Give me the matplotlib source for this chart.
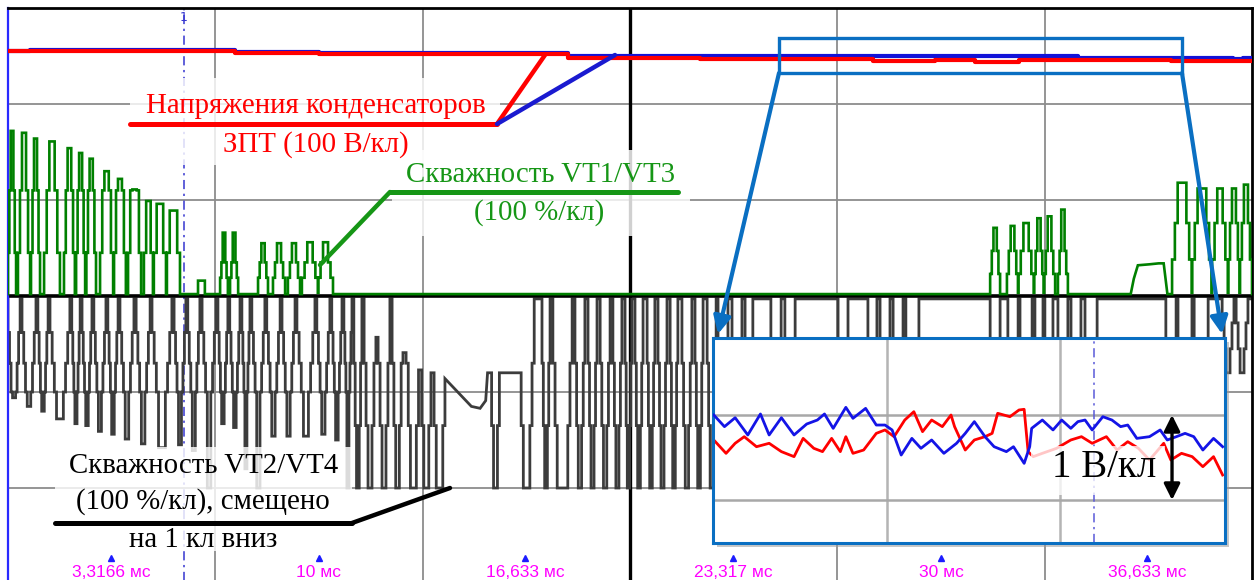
import matplotlib
matplotlib.use("Agg")
import matplotlib.pyplot as plt
from matplotlib.patches import Rectangle, FancyArrowPatch
from matplotlib.lines import Line2D

W, H = 1259, 580

# ---------------- main screen: time in ms, amplitude in divisions ----------------
t_lim = (0.0, 40.0)
div_lim = (-3.0, 3.0)
grid_t = [6.667, 13.333, 26.667, 33.333]
center_t = 20.0
grid_div = [-2.0, -1.0, 1.0, 2.0]
cursor_t = 5.66
tick_pos = [3.3166, 10.0, 16.633, 23.317, 30.0, 36.633]
tick_lbl = ["3,3166 мс", "10 мс", "16,633 мс", "23,317 мс", "30 мс", "36,633 мс"]

# capacitor voltages of the DC link, V (100 V/div)
cap_red_t = [0.0, 7.3, 10.0, 18.0, 22.25, 27.8, 29.8, 31.1, 32.5, 37.4, 40.0]
cap_red_v = [255.2, 253.4, 251.8, 248.2, 246.8, 244.8, 245.8, 243.6, 245.8, 244.8, 244.8]
cap_blue_t = [0.0, 0.7, 7.3, 10.0, 18.0, 20.0, 34.4, 39.4, 39.7, 40.0]
cap_blue_v = [255.4, 256.2, 254.4, 252.9, 250.0, 249.7, 247.6, 247.0, 247.6, 247.6]
volts_per_div = 100.0

# duty cycle VT1/VT3 (div): pulses (t_on, t_off, peak)
vt13_base = 0.02
vt13_a = [(0.00, 0.26, 1.72), (0.32, 0.71, 1.70), (0.74, 1.03, 1.64), (1.16, 1.67, 1.61),
          (1.80, 2.15, 1.54), (2.19, 2.48, 1.49), (2.52, 2.83, 1.43), (2.96, 3.38, 1.30),
          (3.41, 3.79, 1.22), (3.86, 4.28, 1.11), (4.37, 4.66, 0.99), (4.69, 5.08, 0.96),
          (5.11, 5.53, 0.89)]
vt13_a_steps = [0.45, 1.10]
vt13_b = [(6.11, 6.33, 0.16), (6.82, 7.07, 0.66), (7.14, 7.40, 0.66), (8.04, 8.36, 0.55),
          (8.52, 8.91, 0.55), (9.00, 9.39, 0.55), (9.45, 9.97, 0.56), (9.97, 10.45, 0.56)]
vt13_b_steps = [0.19, 0.35]
vt13_c = [(31.58, 31.90, 0.71), (32.12, 32.48, 0.73), (32.48, 32.99, 0.76),
          (32.99, 33.31, 0.81), (33.31, 33.67, 0.83), (33.76, 34.08, 0.90)]
vt13_c_steps = [0.23, 0.47]
vt13_plateau_t = [36.10, 36.20, 36.33, 36.70, 37.00, 37.16, 37.22, 37.28]
vt13_plateau_v = [0.02, 0.18, 0.32, 0.33, 0.34, 0.34, 0.18, 0.02]
vt13_d = [(37.43, 38.07, 1.18), (38.07, 38.71, 1.12), (38.71, 39.23, 1.12),
          (39.23, 39.61, 1.12), (39.61, 40.0, 1.16)]
vt13_d_steps = [0.38, 0.76]

# duty cycle VT2/VT4 (div, shifted one division down): pulses (t_on, t_off, depth[, level after])
vt24_base = -0.03
vt24_left = [(0.0, 0.39, -1.06), (0.45, 0.90, -1.15), (0.96, 1.29, -1.20), (1.35, 1.99, -1.28),
             (2.05, 2.32, -1.33), (2.38, 2.70, -1.35), (2.76, 3.15, -1.41), (3.21, 3.54, -1.44),
             (3.60, 4.05, -1.49), (4.12, 4.57, -1.54), (4.63, 5.27, -1.58), (5.34, 5.72, -1.55),
             (5.78, 6.17, -1.61), (6.24, 6.69, -2.0), (6.75, 7.07, -1.33), (7.13, 7.46, -1.37),
             (7.52, 7.78, -1.80), (7.84, 8.26, -2.0), (8.32, 8.75, -1.46), (8.81, 9.23, -1.46),
             (9.29, 9.87, -1.46), (9.93, 10.35, -1.44), (10.41, 10.74, -1.50), (10.80, 11.06, -2.0)]
vt24_left_steps = [-0.38, -0.70, -1.0]
vt24_mid = [(11.12, 11.38, -2.0, -0.03), (11.45, 11.83, -2.0, -0.43), (11.90, 12.28, -2.0, -0.03),
            (12.35, 12.70, -2.0, -0.59), (12.80, 13.20, -2.0, -0.77), (13.30, 13.60, -2.0, -0.80),
            (13.70, 14.05, -2.0, -0.86)]
vt24_slope_t = [14.90, 15.18, 15.36, 15.42, 15.52]
vt24_slope_v = [-1.15, -1.17, -1.09, -0.80, -0.80]
vt24_after = [(15.55, 15.80, -2.0, -0.80), (16.50, 16.92, -2.0)]
vt24_dense = [(17.17, 17.43, -2.0), (17.52, 18.14, -2.0), (18.23, 18.55, -2.0), (18.65, 18.94, -2.0),
              (19.04, 19.36, -2.0), (19.45, 19.74, -2.0), (19.84, 20.06, -2.0), (20.16, 20.42, -2.0),
              (20.55, 20.80, -2.0), (20.90, 21.19, -2.0), (21.29, 21.54, -2.0), (21.67, 21.99, -2.0),
              (22.09, 22.35, -2.0), (22.48, 22.77, -2.0), (22.83, 23.15, -2.0), (23.28, 23.60, -2.0),
              (23.70, 23.95, -2.0), (24.53, 24.86, -2.0), (24.98, 25.31, -2.0), (26.69, 27.01, -2.0),
              (27.65, 27.94, -2.0), (28.04, 28.36, -2.0), (28.46, 28.78, -2.0), (28.87, 29.29, -2.0),
              (31.58, 31.90, -2.0), (32.15, 32.48, -2.0), (32.54, 32.93, -2.0), (33.02, 33.28, -2.0),
              (33.34, 33.60, -2.0), (33.76, 34.08, -2.0), (34.18, 34.50, -2.0), (34.63, 35.02, -2.0),
              (37.23, 37.56, -2.0), (37.62, 38.07, -2.0), (38.14, 38.59, -2.0)]
vt24_dense_steps = [-0.70, -1.35]
vt24_right = [(39.04, 39.42, -0.80), (39.49, 39.87, -0.80)]
vt24_right_steps = [-0.28, -0.55]

# ---------------- magnified view: ms and V (1 V/div) ----------------
zoom_t_lim = (24.8, 37.75)
zoom_v_lim = (-0.506, 1.906)
zoom_grid_t = [29.2, 33.58]
zoom_grid_v = [0.0, 1.0]
zoom_cursor_t = 34.44
zoom_blue_t = [24.82, 25.09, 25.36, 25.68, 26.00, 26.22, 26.53, 26.85, 27.17, 27.44, 27.62, 27.84,
               28.16, 28.34, 28.66, 28.93, 29.15, 29.33, 29.56, 29.83, 30.06, 30.33, 30.64, 30.96,
               31.18, 31.41, 31.68, 31.91, 32.22, 32.40, 32.67, 32.81, 32.86, 33.13, 33.40, 33.62,
               33.85, 34.03, 34.21, 34.39, 34.66, 34.89, 35.11, 35.29, 35.52, 35.84, 36.11, 36.29,
               36.52, 36.74, 36.96, 37.19, 37.46, 37.69]
zoom_blue_v = [1.000, 0.863, 0.968, 0.765, 1.012, 0.765, 0.968, 0.765, 0.894, 0.941, 1.012, 0.843,
               1.090, 0.961, 1.078, 0.882, 0.882, 0.824, 0.529, 0.725, 0.608, 0.706, 0.549, 0.667,
               0.784, 0.922, 0.745, 0.627, 0.569, 0.627, 0.431, 0.627, 0.843, 0.941, 0.824, 0.941,
               0.843, 0.922, 0.941, 0.824, 0.980, 0.941, 0.863, 0.882, 0.725, 0.745, 0.824, 0.706,
               0.745, 0.784, 0.745, 0.588, 0.725, 0.627]
zoom_red_t = [24.82, 25.13, 25.36, 25.59, 25.90, 26.22, 26.53, 26.85, 27.08, 27.35, 27.57, 27.80,
              28.02, 28.16, 28.34, 28.61, 28.93, 29.15, 29.38, 29.65, 29.88, 30.10, 30.33, 30.60,
              30.82, 30.91, 31.18, 31.41, 31.68, 31.86, 32.00, 32.31, 32.54, 32.67, 32.77, 32.90,
              33.13, 33.49, 33.85, 34.12, 34.39, 34.75, 35.02, 35.29, 35.56, 35.84, 36.20, 36.38,
              36.65, 36.92, 37.19, 37.46, 37.69]
zoom_red_v = [0.706, 0.549, 0.667, 0.745, 0.627, 0.667, 0.569, 0.510, 0.725, 0.608, 0.569, 0.725,
              0.569, 0.745, 0.549, 0.588, 0.784, 0.824, 0.745, 0.941, 1.039, 0.804, 0.941, 0.863,
              1.000, 0.863, 0.588, 0.706, 0.745, 0.784, 1.020, 0.980, 1.059, 1.067, 0.569, 0.510,
              0.549, 0.608, 0.706, 0.745, 0.667, 0.745, 0.588, 0.686, 0.608, 0.471, 0.667, 0.471,
              0.549, 0.510, 0.392, 0.510, 0.294]
zoom_scale_t = 36.41
zoom_scale_v = (0.0, 1.0)

RED = "#ff0000"
BLUE = "#1212d8"
GREEN = "#008000"
GREEN_TXT = "#169616"
GRAY = "#3c3c3c"
CALLOUT = "#0a6fc2"
LABEL_SIZE = 20.8


def staircase(pulses, steps, base, step, cur0=None):
    """Vertices of a multi-level PWM trace built from a pulse list."""
    ts, vs = [], []
    cur = base if cur0 is None else cur0
    for p in pulses:
        t_on, t_off, peak = p[0], p[1], p[2]
        rest = p[3] if len(p) > 3 else base
        down = sorted([s for s in steps if min(cur, peak) < s < max(cur, peak)],
                      key=lambda s: abs(s - cur))
        up = sorted([s for s in steps if min(rest, peak) < s < max(rest, peak)],
                    key=lambda s: abs(s - peak))
        st = min(step, (t_off - t_on) / (len(down) + len(up) + 2))
        t = t_on
        for lvl in down + [peak]:
            ts += [t, t]
            vs += [cur, lvl]
            cur = lvl
            t += st
        t = t_off - st * len(up)
        for lvl in up + [rest]:
            ts += [t, t]
            vs += [cur, lvl]
            cur = lvl
            t += st
    return ts, vs


def fx(x):
    return x / W


def fy(y):
    return 1 - y / H


fig = plt.figure(figsize=(W / 100, H / 100), dpi=100)
fig.patch.set_facecolor("white")

ax = fig.add_axes([fx(8), fy(584), (1252 - 8) / W, (584 - 8) / H], zorder=0)
ax.set_xlim(*t_lim)
ax.set_ylim(*div_lim)
ax.set_xticks([])
ax.set_yticks([])
ax.spines["bottom"].set_visible(False)
ax.spines["left"].set_color("#2a2aff")
ax.spines["left"].set_linewidth(1.6)
ax.spines["top"].set_linewidth(2)
ax.spines["right"].set_linewidth(2)

for g in grid_t:
    ax.axvline(g, color="#8c8c8c", lw=1.3, zorder=1)
for g in grid_div:
    ax.axhline(g, color="#8c8c8c", lw=1.3, zorder=1)
ax.axvline(center_t, color="black", lw=2.4, zorder=1.5)
ax.axhline(0.0, color="black", lw=2.6, zorder=2.5)
ax.axvline(cursor_t, color="#3636d0", lw=1.1, ls=(0, (6, 3, 1.5, 3)), zorder=1.6)
ax.text(cursor_t, 2.90, "1", color="#3636d0", ha="center", va="center", fontsize=9,
        family="DejaVu Sans")

# VT2/VT4 trace
gt, gv = [t_lim[0]], [vt24_base]
for part in (staircase(vt24_left, vt24_left_steps, vt24_base, 0.07),
             staircase(vt24_mid, vt24_dense_steps, vt24_base, 0.07)):
    gt += part[0]
    gv += part[1]
gt += vt24_slope_t
gv += vt24_slope_v
for part in (staircase(vt24_after, vt24_dense_steps, vt24_base, 0.07, cur0=vt24_slope_v[-1]),
             staircase(vt24_dense, vt24_dense_steps, vt24_base, 0.07),
             staircase(vt24_right, vt24_right_steps, vt24_base, 0.07)):
    gt += part[0]
    gv += part[1]
gt.append(t_lim[1])
gv.append(vt24_base)
ax.plot(gt, gv, color=GRAY, lw=2.0, zorder=2, solid_joinstyle="miter")

# VT1/VT3 trace
ct, cv = [t_lim[0]], [vt13_base]
for part in (staircase(vt13_a, vt13_a_steps, vt13_base, 0.09),
             staircase(vt13_b, vt13_b_steps, vt13_base, 0.09),
             staircase(vt13_c, vt13_c_steps, vt13_base, 0.09)):
    ct += part[0]
    cv += part[1]
ct += vt13_plateau_t
cv += vt13_plateau_v
pt, pv = staircase(vt13_d, vt13_d_steps, vt13_base, 0.09)
ct += pt
cv += pv
ax.plot(ct, cv, color=GREEN, lw=1.9, zorder=3, solid_joinstyle="miter")

# DC-link capacitor voltages
ax.step(cap_blue_t, [v / volts_per_div for v in cap_blue_v], where="post",
        color=BLUE, lw=3, zorder=4)
ax.step(cap_red_t, [v / volts_per_div for v in cap_red_v], where="post",
        color=RED, lw=3, zorder=4.1)

# time marks
ax.plot(tick_pos, [-2.73] * len(tick_pos), ls="none", marker="^", ms=5,
        color="#1c1cff", zorder=5)
for tp, tl in zip(tick_pos, tick_lbl):
    ax.text(tp, -2.885, tl, color="#ff00ff", ha="center", va="center", fontsize=12.5,
            family="Liberation Sans", zorder=5)


def fig_rect(x0, y0, x1, y1, z, **kw):
    r = Rectangle((fx(x0), fy(y1)), (x1 - x0) / W, (y1 - y0) / H,
                  transform=fig.transFigure, zorder=z, **kw)
    fig.add_artist(r)


def fig_line(xs, ys, color, lw, z):
    fig.add_artist(Line2D([fx(x) for x in xs], [fy(y) for y in ys], color=color, lw=lw,
                          transform=fig.transFigure, zorder=z, solid_capstyle="round"))


def fig_text(x, y, s, color, size, z=3):
    fig.text(fx(x), fy(y), s, color=color, fontsize=size, ha="center", va="baseline",
             family="Liberation Serif", zorder=z)


# label backgrounds
fig_rect(130, 78, 500, 165, 1, facecolor="white", edgecolor="none", alpha=0.82)
fig_rect(392, 150, 690, 236, 1, facecolor="white", edgecolor="none", alpha=0.82)
fig_rect(55, 447, 352, 551, 1, facecolor="white", edgecolor="none", alpha=0.82)

# labels with leader lines
fig_text(316, 113, "Напряжения конденсаторов", RED, LABEL_SIZE)
fig_text(316, 152, "ЗПТ (100 В/кл)", RED, LABEL_SIZE)
fig_line([130, 497], [124, 124], RED, 3.6, 2)
fig_line([497, 545], [124, 55], RED, 3.2, 2)
fig_line([497, 615], [124, 55], "#1a1ad0", 3.2, 2)

fig_text(540, 182, "Скважность VT1/VT3", GREEN_TXT, LABEL_SIZE)
fig_text(539, 220, "(100 %/кл)", GREEN_TXT, LABEL_SIZE)
fig_line([390, 678], [192, 192], GREEN_TXT, 3.6, 2)
fig_line([390, 320], [192, 265], GREEN_TXT, 3.2, 2)

fig_text(204, 473, "Скважность VT2/VT4", "black", LABEL_SIZE)
fig_text(203, 509, "(100 %/кл), смещено", "black", LABEL_SIZE)
fig_text(203, 547, "на 1 кл вниз", "black", LABEL_SIZE)
fig_line([55, 352], [523, 523], "black", 3.6, 2)
fig_line([352, 450], [523, 488], "black", 3.2, 2)

# magnified view
fig_rect(717, 342, 1229, 547, 4, facecolor="#9a9a9a", edgecolor="none", alpha=0.55)
axz = fig.add_axes([fx(713), fy(543), 512 / W, 205 / H], zorder=5)
axz.set_facecolor("white")
axz.set_xlim(*zoom_t_lim)
axz.set_ylim(*zoom_v_lim)
axz.set_xticks([])
axz.set_yticks([])
for s in axz.spines.values():
    s.set_color(CALLOUT)
    s.set_linewidth(2.2)
for g in zoom_grid_t:
    axz.axvline(g, color="#b4b4b4", lw=1.8, zorder=1)
for g in zoom_grid_v:
    axz.axhline(g, color="#a8a8a8", lw=1.8, zorder=1)
axz.axvline(zoom_cursor_t, color="#5a5ad8", lw=1.1, ls=(0, (6, 3, 1.5, 3)), zorder=1.5)
axz.plot(zoom_red_t, zoom_red_v, color=RED, lw=2.0, zorder=2)
axz.add_patch(Rectangle((32.84, 0.06), 3.40, 0.57, facecolor="white", edgecolor="none",
                        alpha=0.78, zorder=3))
axz.plot(zoom_blue_t, zoom_blue_v, color="#1414e6", lw=2.0, zorder=4)
axz.annotate("", xy=(zoom_scale_t, zoom_scale_v[1]), xytext=(zoom_scale_t, zoom_scale_v[0]),
             arrowprops=dict(arrowstyle="<|-|>", color="black", lw=2.4, mutation_scale=24,
                             shrinkA=0, shrinkB=0), zorder=6)
axz.text(34.69, 0.27, "1 В/кл", color="black", fontsize=28, ha="center", va="baseline",
         family="Liberation Serif", zorder=6)

# callout frame and arrows
fig.add_artist(Rectangle((fx(779), fy(73)), (1182 - 779) / W, (73 - 38) / H,
                         transform=fig.transFigure, fill=False, edgecolor=CALLOUT, lw=2.4,
                         zorder=6))
for (x0, y0), (x1, y1) in [((779, 73), (718, 334)), ((1182, 73), (1222, 334))]:
    fig.add_artist(FancyArrowPatch((fx(x0), fy(y0)), (fx(x1), fy(y1)),
                                   transform=fig.transFigure, arrowstyle="-|>",
                                   mutation_scale=26, color=CALLOUT, lw=3,
                                   shrinkA=0, shrinkB=0, zorder=7))

fig.savefig("out.png", dpi=100, facecolor="white")
